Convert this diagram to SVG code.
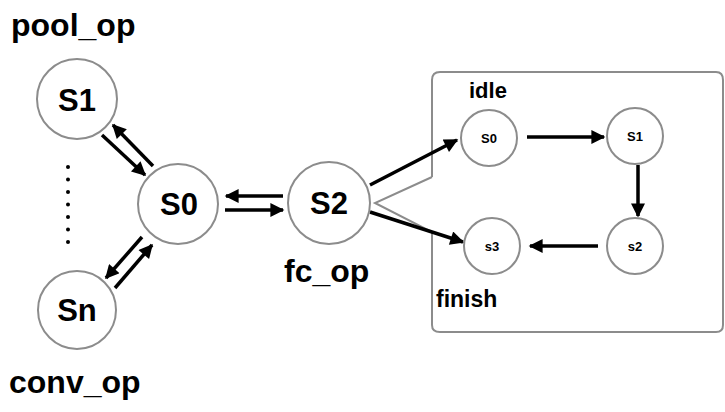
<svg xmlns="http://www.w3.org/2000/svg" width="725" height="412" viewBox="0 0 725 412">
  <style>
    .node { fill: #ffffff; stroke: #8c8c8c; stroke-width: 2; }
    .big { font-family: "Liberation Sans", Arial, sans-serif; font-weight: bold; font-size: 31px; fill: #000; text-anchor: middle; }
    .small { font-family: "Liberation Sans", Arial, sans-serif; font-weight: bold; font-size: 13px; fill: #000; text-anchor: middle; }
    .lbl { font-family: "Liberation Sans", Arial, sans-serif; font-weight: bold; fill: #000; }
    .edge { stroke: #000; stroke-width: 3.5; fill: none; marker-end: url(#head); }
    .callout { fill: none; stroke: #8c8c8c; stroke-width: 2; }
  </style>
  <defs>
    <marker id="head" viewBox="0 0 10 10" refX="9" refY="5" markerWidth="4.5" markerHeight="4" orient="auto" markerUnits="strokeWidth">
      <path d="M0,0 L10,5 L0,10 z" fill="#000"/>
    </marker>
  </defs>
  <rect width="725" height="412" fill="#ffffff"/>

  <!-- sub-machine frame, with a pointer back to S2 -->
  <path class="callout" d="M432,177 L432,80 Q432,72 440,72 L716,72 Q723,72 723,80 L723,325 Q723,332 716,332 L440,332 Q432,332 432,325 L432,232 L375,203 L432,177"/>

  <!-- labels -->
  <text class="lbl" x="11" y="36" font-size="32">pool_op</text>
  <text class="lbl" x="9" y="393" font-size="32">conv_op</text>
  <text class="lbl" x="284" y="282" font-size="32">fc_op</text>
  <text class="lbl" x="469" y="98" font-size="22">idle</text>
  <text class="lbl" x="436" y="307" font-size="23">finish</text>

  <!-- ellipsis between S1 and Sn -->
  <g id="ellipsis" fill="#000">
    <circle cx="68" cy="167" r="2"/>
    <circle cx="68" cy="179.5" r="2"/>
    <circle cx="68" cy="192" r="2"/>
    <circle cx="68" cy="204.5" r="2"/>
    <circle cx="68" cy="217" r="2"/>
    <circle cx="68" cy="229.5" r="2"/>
    <circle cx="68" cy="242" r="2"/>
  </g>

  <g id="connectors">
    <line class="edge" x1="102" y1="135" x2="145" y2="175"/>
    <line class="edge" x1="153" y1="166" x2="113" y2="125"/>
    <line class="edge" x1="283" y1="196" x2="226" y2="196"/>
    <line class="edge" x1="225" y1="210" x2="283" y2="210"/>
    <line class="edge" x1="142" y1="237" x2="106" y2="278"/>
    <line class="edge" x1="115" y1="288" x2="152" y2="245"/>
    <line class="edge" x1="370" y1="185" x2="457" y2="140"/>
    <line class="edge" x1="370" y1="212" x2="463" y2="242"/>
    <line class="edge" x1="527" y1="137" x2="604" y2="137"/>
    <line class="edge" x1="638" y1="165" x2="638" y2="216"/>
    <line class="edge" x1="598" y1="246" x2="530" y2="246"/>
  </g>

  <g id="n-S1"><circle class="node" cx="77" cy="99" r="40"/><text class="big" x="77" y="111">S1</text></g>
  <g id="n-S0"><circle class="node" cx="178" cy="204" r="40"/><text class="big" x="179" y="215">S0</text></g>
  <g id="n-S2"><circle class="node" cx="329" cy="203" r="41"/><text class="big" x="329" y="214">S2</text></g>
  <g id="n-Sn"><circle class="node" cx="77" cy="310" r="39"/><text class="big" x="77" y="321">Sn</text></g>

  <g id="n-i-s0"><circle class="node" cx="489" cy="138" r="28"/><text class="small" x="489" y="143">S0</text></g>
  <g id="n-i-s1"><circle class="node" cx="635" cy="136" r="28"/><text class="small" x="635" y="141">S1</text></g>
  <g id="n-i-s2"><circle class="node" cx="635" cy="246" r="28"/><text class="small" x="635" y="251">s2</text></g>
  <g id="n-i-s3"><circle class="node" cx="492" cy="246" r="28"/><text class="small" x="492" y="251">s3</text></g>
</svg>
